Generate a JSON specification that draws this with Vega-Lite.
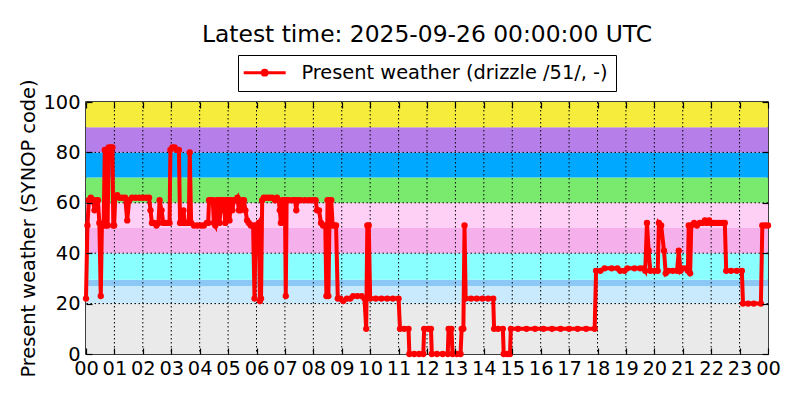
{
  "$schema": "https://vega.github.io/schema/vega-lite/v6.json",
  "autosize": {"type": "none"},
  "width": 682,
  "height": 252,
  "padding": {"left": 86, "top": 102, "right": 32, "bottom": 46},
  "background": "white",
  "title": {"text": "Latest time: 2025-09-26 00:00:00 UTC", "font": "DejaVu Sans", "fontSize": 23.4, "fontWeight": "normal", "color": "black", "anchor": "middle", "offset": 7},
  "config": {
    "font": "DejaVu Sans",
    "view": {"stroke": "black", "strokeWidth": 1.5},
    "axis": {"labelFont": "DejaVu Sans", "labelFontSize": 19.4, "labelColor": "black", "titleFont": "DejaVu Sans", "titleFontSize": 19.4, "titleFontWeight": "normal", "titleColor": "black", "domain": false, "grid": false, "tickColor": "black", "tickWidth": 1.2, "tickSize": -6, "labelFlush": false, "labelOverlap": false}
  },
  "datasets": {
    "bands": [
      {"band": "0-19", "lo": 0, "hi": 20},
      {"band": "20-26", "lo": 20, "hi": 27},
      {"band": "27-29", "lo": 27, "hi": 29.5},
      {"band": "30-39", "lo": 29.5, "hi": 40},
      {"band": "40-49", "lo": 40, "hi": 50},
      {"band": "50-59", "lo": 50, "hi": 60},
      {"band": "60-69", "lo": 60, "hi": 70},
      {"band": "70-79", "lo": 70, "hi": 80},
      {"band": "80-89", "lo": 80, "hi": 90},
      {"band": "90-99", "lo": 90, "hi": 100}
    ],
    "hourGrid": [
      {"hour": 1}, {"hour": 2}, {"hour": 3}, {"hour": 4}, {"hour": 5}, {"hour": 6}, {"hour": 7}, {"hour": 8},
      {"hour": 9}, {"hour": 10}, {"hour": 11}, {"hour": 12}, {"hour": 13}, {"hour": 14}, {"hour": 15}, {"hour": 16},
      {"hour": 17}, {"hour": 18}, {"hour": 19}, {"hour": 20}, {"hour": 21}, {"hour": 22}, {"hour": 23}
    ],
    "codeGrid": [{"code": 20}, {"code": 40}, {"code": 60}, {"code": 80}],
    "obs": [
      {"hour": 0.00, "code": 22}, {"hour": 0.05, "code": 51}, {"hour": 0.10, "code": 61}, {"hour": 0.17, "code": 62},
      {"hour": 0.25, "code": 61}, {"hour": 0.30, "code": 57}, {"hour": 0.36, "code": 61}, {"hour": 0.42, "code": 61},
      {"hour": 0.47, "code": 52}, {"hour": 0.52, "code": 23}, {"hour": 0.56, "code": 51}, {"hour": 0.62, "code": 51},
      {"hour": 0.66, "code": 81}, {"hour": 0.71, "code": 51}, {"hour": 0.76, "code": 51}, {"hour": 0.80, "code": 82},
      {"hour": 0.87, "code": 82}, {"hour": 0.93, "code": 82}, {"hour": 0.96, "code": 51}, {"hour": 0.99, "code": 51},
      {"hour": 1.03, "code": 62}, {"hour": 1.10, "code": 63}, {"hour": 1.18, "code": 62}, {"hour": 1.28, "code": 62},
      {"hour": 1.38, "code": 62}, {"hour": 1.45, "code": 53}, {"hour": 1.52, "code": 61}, {"hour": 1.62, "code": 62},
      {"hour": 1.75, "code": 62}, {"hour": 1.88, "code": 62}, {"hour": 2.00, "code": 62}, {"hour": 2.12, "code": 62},
      {"hour": 2.22, "code": 62}, {"hour": 2.27, "code": 57}, {"hour": 2.32, "code": 52}, {"hour": 2.40, "code": 52},
      {"hour": 2.48, "code": 51}, {"hour": 2.55, "code": 52}, {"hour": 2.59, "code": 61}, {"hour": 2.66, "code": 57},
      {"hour": 2.72, "code": 52}, {"hour": 2.80, "code": 52}, {"hour": 2.88, "code": 52}, {"hour": 2.94, "code": 52},
      {"hour": 2.97, "code": 81}, {"hour": 3.04, "code": 82}, {"hour": 3.12, "code": 82}, {"hour": 3.20, "code": 81},
      {"hour": 3.27, "code": 81}, {"hour": 3.31, "code": 52}, {"hour": 3.37, "code": 52}, {"hour": 3.43, "code": 57},
      {"hour": 3.48, "code": 52}, {"hour": 3.56, "code": 52}, {"hour": 3.62, "code": 52}, {"hour": 3.65, "code": 80},
      {"hour": 3.70, "code": 52}, {"hour": 3.80, "code": 51}, {"hour": 3.92, "code": 51}, {"hour": 4.05, "code": 51},
      {"hour": 4.15, "code": 51}, {"hour": 4.25, "code": 52}, {"hour": 4.30, "code": 52}, {"hour": 4.33, "code": 61},
      {"hour": 4.40, "code": 61}, {"hour": 4.46, "code": 61}, {"hour": 4.50, "code": 52}, {"hour": 4.55, "code": 51},
      {"hour": 4.60, "code": 61}, {"hour": 4.66, "code": 61}, {"hour": 4.70, "code": 52}, {"hour": 4.75, "code": 61},
      {"hour": 4.80, "code": 57}, {"hour": 4.85, "code": 61}, {"hour": 4.90, "code": 52}, {"hour": 4.95, "code": 61},
      {"hour": 5.00, "code": 61}, {"hour": 5.05, "code": 53}, {"hour": 5.10, "code": 61}, {"hour": 5.15, "code": 57},
      {"hour": 5.20, "code": 61}, {"hour": 5.27, "code": 61}, {"hour": 5.33, "code": 62}, {"hour": 5.38, "code": 57},
      {"hour": 5.44, "code": 57}, {"hour": 5.50, "code": 61}, {"hour": 5.56, "code": 61}, {"hour": 5.61, "code": 57},
      {"hour": 5.67, "code": 53}, {"hour": 5.73, "code": 52}, {"hour": 5.80, "code": 51}, {"hour": 5.88, "code": 51},
      {"hour": 5.93, "code": 22}, {"hour": 5.97, "code": 51}, {"hour": 6.03, "code": 51}, {"hour": 6.08, "code": 52},
      {"hour": 6.12, "code": 21}, {"hour": 6.16, "code": 22}, {"hour": 6.20, "code": 61}, {"hour": 6.26, "code": 62},
      {"hour": 6.35, "code": 62}, {"hour": 6.45, "code": 62}, {"hour": 6.55, "code": 62}, {"hour": 6.65, "code": 61},
      {"hour": 6.72, "code": 62}, {"hour": 6.78, "code": 61}, {"hour": 6.82, "code": 57}, {"hour": 6.86, "code": 52},
      {"hour": 6.92, "code": 61}, {"hour": 7.00, "code": 61}, {"hour": 7.03, "code": 23}, {"hour": 7.06, "code": 61},
      {"hour": 7.15, "code": 61}, {"hour": 7.28, "code": 61}, {"hour": 7.36, "code": 61}, {"hour": 7.40, "code": 57},
      {"hour": 7.44, "code": 61}, {"hour": 7.55, "code": 61}, {"hour": 7.70, "code": 61}, {"hour": 7.85, "code": 61},
      {"hour": 7.97, "code": 61}, {"hour": 8.08, "code": 61}, {"hour": 8.13, "code": 57}, {"hour": 8.20, "code": 57},
      {"hour": 8.27, "code": 52}, {"hour": 8.34, "code": 51}, {"hour": 8.42, "code": 51}, {"hour": 8.46, "code": 23},
      {"hour": 8.50, "code": 61}, {"hour": 8.53, "code": 23}, {"hour": 8.58, "code": 61}, {"hour": 8.63, "code": 61},
      {"hour": 8.68, "code": 51}, {"hour": 8.74, "code": 51}, {"hour": 8.80, "code": 51}, {"hour": 8.86, "code": 22},
      {"hour": 8.95, "code": 22}, {"hour": 9.05, "code": 21}, {"hour": 9.18, "code": 22}, {"hour": 9.30, "code": 22},
      {"hour": 9.40, "code": 23}, {"hour": 9.55, "code": 23}, {"hour": 9.70, "code": 23}, {"hour": 9.80, "code": 22},
      {"hour": 9.86, "code": 10}, {"hour": 9.90, "code": 51}, {"hour": 9.95, "code": 51}, {"hour": 10.00, "code": 22},
      {"hour": 10.20, "code": 22}, {"hour": 10.40, "code": 22}, {"hour": 10.60, "code": 22}, {"hour": 10.80, "code": 22},
      {"hour": 11.00, "code": 22}, {"hour": 11.05, "code": 10}, {"hour": 11.20, "code": 10}, {"hour": 11.35, "code": 10},
      {"hour": 11.38, "code": 0}, {"hour": 11.55, "code": 0}, {"hour": 11.72, "code": 0}, {"hour": 11.87, "code": 0},
      {"hour": 11.90, "code": 10}, {"hour": 12.05, "code": 10}, {"hour": 12.14, "code": 10}, {"hour": 12.17, "code": 0},
      {"hour": 12.35, "code": 0}, {"hour": 12.55, "code": 0}, {"hour": 12.73, "code": 0}, {"hour": 12.76, "code": 10},
      {"hour": 12.86, "code": 10}, {"hour": 12.90, "code": 0}, {"hour": 13.05, "code": 0}, {"hour": 13.18, "code": 0},
      {"hour": 13.22, "code": 10}, {"hour": 13.28, "code": 10}, {"hour": 13.32, "code": 51}, {"hour": 13.36, "code": 22},
      {"hour": 13.55, "code": 22}, {"hour": 13.75, "code": 22}, {"hour": 13.95, "code": 22}, {"hour": 14.15, "code": 22},
      {"hour": 14.33, "code": 22}, {"hour": 14.36, "code": 10}, {"hour": 14.50, "code": 10}, {"hour": 14.67, "code": 10},
      {"hour": 14.70, "code": 0}, {"hour": 14.82, "code": 0}, {"hour": 14.92, "code": 0}, {"hour": 14.95, "code": 10},
      {"hour": 15.20, "code": 10}, {"hour": 15.50, "code": 10}, {"hour": 15.80, "code": 10}, {"hour": 16.10, "code": 10},
      {"hour": 16.40, "code": 10}, {"hour": 16.70, "code": 10}, {"hour": 17.00, "code": 10}, {"hour": 17.30, "code": 10},
      {"hour": 17.60, "code": 10}, {"hour": 17.90, "code": 10}, {"hour": 17.95, "code": 33}, {"hour": 18.10, "code": 33},
      {"hour": 18.25, "code": 34}, {"hour": 18.50, "code": 34}, {"hour": 18.70, "code": 34}, {"hour": 18.80, "code": 33},
      {"hour": 18.95, "code": 33}, {"hour": 19.05, "code": 34}, {"hour": 19.30, "code": 34}, {"hour": 19.50, "code": 34},
      {"hour": 19.62, "code": 34}, {"hour": 19.68, "code": 33}, {"hour": 19.74, "code": 52}, {"hour": 19.80, "code": 41},
      {"hour": 19.86, "code": 33}, {"hour": 20.00, "code": 33}, {"hour": 20.12, "code": 33}, {"hour": 20.16, "code": 52},
      {"hour": 20.24, "code": 51}, {"hour": 20.34, "code": 41}, {"hour": 20.40, "code": 32}, {"hour": 20.50, "code": 33},
      {"hour": 20.65, "code": 33}, {"hour": 20.80, "code": 33}, {"hour": 20.86, "code": 41}, {"hour": 20.92, "code": 33},
      {"hour": 21.00, "code": 34}, {"hour": 21.12, "code": 34}, {"hour": 21.18, "code": 33}, {"hour": 21.21, "code": 51},
      {"hour": 21.26, "code": 32}, {"hour": 21.30, "code": 51}, {"hour": 21.40, "code": 52}, {"hour": 21.50, "code": 51},
      {"hour": 21.60, "code": 52}, {"hour": 21.70, "code": 52}, {"hour": 21.78, "code": 53}, {"hour": 21.85, "code": 52},
      {"hour": 21.93, "code": 53}, {"hour": 22.00, "code": 52}, {"hour": 22.10, "code": 52}, {"hour": 22.20, "code": 52},
      {"hour": 22.30, "code": 52}, {"hour": 22.40, "code": 52}, {"hour": 22.48, "code": 52}, {"hour": 22.53, "code": 33},
      {"hour": 22.70, "code": 33}, {"hour": 22.90, "code": 33}, {"hour": 23.08, "code": 33}, {"hour": 23.12, "code": 20},
      {"hour": 23.30, "code": 20}, {"hour": 23.50, "code": 20}, {"hour": 23.75, "code": 20}, {"hour": 23.80, "code": 51},
      {"hour": 23.90, "code": 51}, {"hour": 24.00, "code": 51}
    ]
  },
  "layer": [
    {
      "data": {"name": "bands"},
      "mark": {"type": "rect", "strokeWidth": 0},
      "encoding": {
        "x": {"datum": 0, "type": "quantitative", "scale": {"domain": [0, 24], "nice": false, "zero": false},
              "axis": {"orient": "top", "zindex": 2, "values": [0,1,2,3,4,5,6,7,8,9,10,11,12,13,14,15,16,17,18,19,20,21,22,23,24], "labels": false, "title": null}},
        "x2": {"datum": 24},
        "y": {"field": "lo", "type": "quantitative", "scale": {"domain": [0, 100], "nice": false, "zero": false},
              "axis": {"orient": "left", "zindex": 2, "values": [0, 20, 40, 60, 80, 100], "title": "Present weather (SYNOP code)", "titlePadding": 4, "labelPadding": 12}},
        "y2": {"field": "hi"},
        "color": {"field": "band", "type": "nominal",
                  "scale": {"domain": ["0-19", "20-26", "27-29", "30-39", "40-49", "50-59", "60-69", "70-79", "80-89", "90-99"],
                            "range": ["#eaeaea", "#c8eafc", "#8cc8f5", "#8affff", "#f5b0ec", "#ffd0f6", "#7aea6f", "#00a9ff", "#b57ee8", "#f6ec3c"]},
                  "legend": null}
      }
    },
    {
      "data": {"name": "hourGrid"},
      "mark": {"type": "rule", "color": "black", "strokeWidth": 1, "strokeDash": [1.5, 2.5]},
      "encoding": {"x": {"field": "hour", "type": "quantitative", "axis": null}}
    },
    {
      "data": {"name": "codeGrid"},
      "mark": {"type": "rule", "color": "black", "strokeWidth": 1, "strokeDash": [1.5, 2.5]},
      "encoding": {"y": {"field": "code", "type": "quantitative", "axis": null}}
    },
    {
      "data": {"name": "obs"},
      "mark": {"type": "line", "color": "red", "strokeWidth": 4, "point": {"filled": true, "size": 40, "color": "red"}},
      "encoding": {
        "x": {"field": "hour", "type": "quantitative", "scale": {"domain": [0, 24], "nice": false, "zero": false},
              "axis": {"orient": "bottom", "zindex": 2, "values": [0,1,2,3,4,5,6,7,8,9,10,11,12,13,14,15,16,17,18,19,20,21,22,23,24], "labelExpr": "(datum.value % 24 < 10 ? '0' : '') + (datum.value % 24)", "labelPadding": 11, "title": null}},
        "y": {"field": "code", "type": "quantitative", "scale": {"domain": [0, 100], "nice": false, "zero": false},
              "axis": {"orient": "right", "zindex": 2, "values": [0, 20, 40, 60, 80, 100], "labels": false, "title": null}},
        "color": {"datum": "Present weather (drizzle /51/, -)", "type": "nominal", "scale": {"range": ["red"]},
                  "legend": {"orient": "none", "legendX": 152, "legendY": -47, "title": null, "direction": "vertical",
                             "symbolType": "M-5.25,0H5.25M-0.6,0A0.6,0.6,0,1,0,0.6,0A0.6,0.6,0,1,0,-0.6,0",
                             "symbolSize": 64, "symbolStrokeWidth": 3, "symbolFillColor": "red", "symbolStrokeColor": "red", "symbolOffset": 9,
                             "labelFont": "DejaVu Sans", "labelFontSize": 19.4, "labelColor": "black", "labelOffset": 27, "labelLimit": 600,
                             "strokeColor": "black", "fillColor": "white", "padding": 8, "cornerRadius": 0}}
      }
    }
  ],
  "resolve": {"scale": {"color": "independent"}, "axis": {"x": "independent", "y": "independent"}}
}
